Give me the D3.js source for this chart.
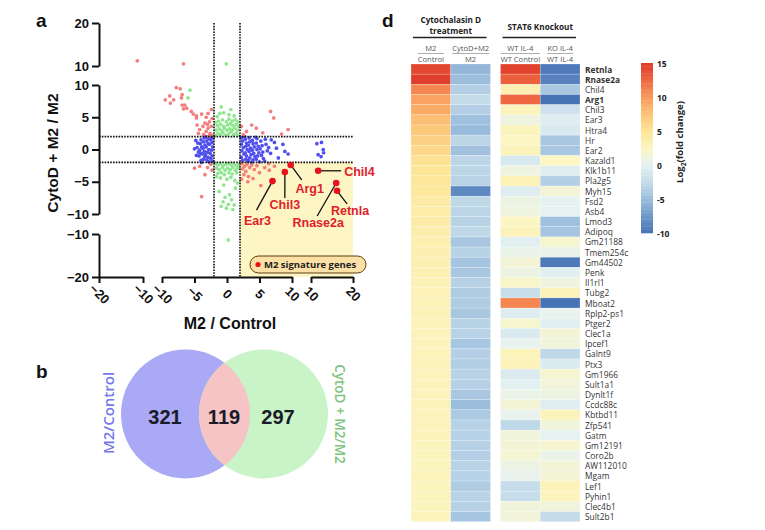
<!DOCTYPE html>
<html><head><meta charset="utf-8">
<script src="https://cdn.jsdelivr.net/npm/d3@7"></script>
<style>body{margin:0;background:#fff}svg{display:block}</style>
</head><body><svg id="c" width="765" height="530"></svg>
<script>
// ---------------- DATA ----------------
// Panel a: scatter (log2 FC), x = M2/Control, y = CytoD+M2/M2
const bluePts = [
[-2.2,1.8],[-2.5,1.5],[-2.3,1.1],[-2.7,0.8],[-2.2,0.4],[-2.4,-0.1],[-2.6,-0.6],[-2.3,-1.0],[-2.5,-1.4],[-2.2,-1.8],
[-2.9,1.7],[-3.1,1.3],[-2.9,0.9],[-3.2,0.4],[-2.8,0.0],[-3.0,-0.4],[-3.3,-0.8],[-2.9,-1.2],[-3.1,-1.6],[-2.8,-1.9],
[-3.5,1.8],[-3.6,1.2],[-3.4,0.7],[-3.7,0.2],[-3.5,-0.3],[-3.8,-0.7],[-3.4,-1.1],[-3.6,-1.5],
[-4.0,1.5],[-4.1,0.9],[-3.9,0.4],[-4.2,-0.1],[-4.0,-0.6],[-4.3,-1.0],[-4.0,-1.7],
[-4.5,1.0],[-4.6,0.3],[-4.4,-0.4],[-4.7,-0.9],[-2.4,2.0],[-2.6,-2.0],[-3.3,2.0],[-3.9,-2.0],[-5.0,0.1],[-4.8,1.4],
[2.2,1.8],[2.4,1.3],[2.2,0.8],[2.5,0.3],[2.3,-0.2],[2.6,-0.7],[2.2,-1.2],[2.4,-1.7],
[2.8,1.6],[3.0,1.0],[2.9,0.5],[3.1,0.0],[2.8,-0.5],[3.0,-1.0],[2.9,-1.5],[3.2,-1.9],
[3.4,1.8],[3.5,1.2],[3.3,0.7],[3.6,0.2],[3.4,-0.3],[3.7,-0.8],[3.5,-1.3],[3.3,-1.7],
[3.9,1.4],[4.0,0.9],[4.2,0.4],[3.9,-0.1],[4.1,-0.6],[4.3,-1.1],[4.0,-1.6],
[4.6,1.7],[4.5,1.0],[4.8,0.5],[4.6,0.0],[4.9,-0.5],[4.7,-1.0],[4.5,-1.5],
[5.2,1.3],[5.4,0.6],[5.1,0.1],[5.5,-0.4],[5.3,-0.9],[5.6,-1.4],
[5.9,1.6],[6.0,0.8],[6.2,-0.2],[5.8,-1.8],[6.4,0.3],[2.7,2.0],[3.8,-2.0],[4.4,1.9],[5.0,-1.9],
[6.8,1.5],[7.3,1.1],[6.7,-0.6],[7.6,0.2],[8.6,0.8],[8.9,-0.3],[9.4,-0.7],[7.9,-1.3],
[11.4,0.9],[12.5,1.1],[12.9,0.0],[13.0,-0.5],[11.7,-0.8],[12.4,-1.1]
];
const greenPts = [
[-1.8,2.2],[-1.4,2.5],[-1.0,2.3],[-0.6,2.6],[-0.2,2.2],[0.2,2.4],[0.6,2.7],[1.0,2.3],[1.4,2.5],[1.8,2.2],
[-1.7,3.0],[-1.2,3.2],[-0.8,2.9],[-0.4,3.3],[0.0,3.0],[0.4,3.2],[0.8,3.0],[1.2,3.3],[1.6,3.0],
[-1.5,3.7],[-1.0,3.9],[-0.5,3.6],[0.1,3.8],[0.5,4.0],[0.9,3.7],[1.4,3.9],[1.8,3.6],
[-1.3,4.4],[-0.7,4.6],[-0.1,4.3],[0.3,4.7],[0.8,4.4],[1.3,4.6],[-1.8,4.2],[1.7,4.3],
[-0.9,6.6],[-0.5,5.7],[0.3,5.4],[1.1,5.2],[-1.5,5.1],[-5.7,9.2],[-6.0,8.0],[0.6,6.2],[-1.1,5.6],
[-0.1,10.5],
[-1.8,-2.2],[-1.4,-2.4],[-1.0,-2.2],[-0.6,-2.5],[-0.2,-2.3],[0.2,-2.2],[0.6,-2.4],[1.0,-2.2],[1.4,-2.5],[1.8,-2.3],
[-1.6,-2.9],[-1.2,-3.1],[-0.7,-2.8],[-0.3,-3.2],[0.1,-2.9],[0.5,-3.1],[0.9,-2.8],[1.3,-3.2],[1.7,-2.9],
[-1.4,-3.7],[-0.9,-3.6],[-0.4,-3.9],[0.3,-3.6],[0.8,-3.8],[1.5,-3.6],
[-1.0,-4.4],[0.0,-4.6],[0.6,-4.3],[1.2,-4.8],[-1.6,-4.2],
[-0.5,-5.5],[1.6,-5.2],[-1.2,-6.5],[1.3,-6.0],[0.4,-7.0],[-0.6,-8.1],[0.7,-7.8],[-0.1,-9.1],[0.9,-9.3],[-0.9,-8.8],[0.2,-8.5],[1.1,-8.6],[-0.3,-7.4],
[0.2,-11.4]
];
const pinkPts = [
[-11.3,11.2],[-6.7,10.5],
[-7.8,9.6],[-7.2,9.4],[-8.8,8.3],[-9.5,7.7],[-8.2,7.7],[-8.7,7.2],[-7.0,8.0],[-6.9,6.9],[-6.7,6.3],[-6.9,8.5],[-6.5,6.9],[-6.2,6.4],
[-5.5,5.9],[-5.2,5.5],[-4.7,5.2],[-3.9,5.5],[-3.2,5.0],[-2.9,5.6],[-2.4,6.2],[-4.7,4.9],[-3.4,4.1],[-2.7,4.3],[-2.9,3.3],[-3.7,3.6],
[-4.2,3.1],[-3.2,2.8],[-2.6,2.5],[-2.4,3.6],[-2.2,2.2],[-3.6,2.3],[-4.4,2.5],[-2.8,2.1],[-3.0,3.9],[-4.6,3.8],[-2.3,4.8],
[2.2,3.6],[3.8,3.8],[4.5,3.3],[3.0,2.8],[6.7,5.9],[7.2,4.9],[8.4,2.4],[9.4,3.1],[2.5,2.3],[5.5,2.6],
[-3.9,-7.3],[-3.4,-3.9],[-5.0,-2.9],[-4.2,-2.6],[-2.5,-2.3],[-3.0,-2.8],[-2.3,-3.2],
[2.3,-2.2],[2.7,-2.6],[3.1,-2.3],[2.4,-3.0],[3.5,-2.8],[2.9,-3.4],[3.8,-2.4],[4.2,-3.1],[2.6,-3.9],[3.3,-4.2],
[3.2,-5.0],[4.6,-2.5],[5.0,-3.6],[2.2,-4.6],[4.0,-4.5],[5.8,-2.8],[6.5,-3.2],[5.2,-5.6],[6.4,-2.2],[7.3,-2.6]
];
const sigGenes = ["Chil4","Arg1","Chil3","Ear3","Rnase2a","Retnla"];
const sigX = [11.7, 9.8, 8.9, 7.0, 16.0, 16.2];
const sigY = [-3.3, -2.4, -3.5, -4.9, -5.2, -6.4];
const xTicksLeft = [-20,-10], xTicksMid = [-10,-5,0,5,10], xTicksRight = [10,20];
const yTicksTop = [10,20], yTicksMid = [-10,-5,0,5,10], yTicksBot = [-20,-10];

// Panel b: Venn
const vennLabels = ["M2/Control","CytoD + M2/M2"];
const vennCounts = [321, 119, 297];

// Panel d: heatmap
const genes = ["Retnla","Rnase2a","Chil4","Arg1","Chil3","Ear3","Htra4","Hr","Ear2","Kazald1","Klk1b11","Pla2g5","Myh15","Fsd2","Asb4","Lmod3","Adipoq","Gm21188","Tmem254c","Gm44502","Penk","Il1rl1","Tubg2","Mboat2","Rplp2-ps1","Ptger2","Clec1a","Ipcef1","Galnt9","Ptx3","Gm1966","Sult1a1","Dynlt1f","Ccdc88c","Kbtbd11","Zfp541","Gatm","Gm12191","Coro2b","AW112010","Mgam","Lef1","Pyhin1","Clec4b1","Sult2b1"];
const boldGenes = ["Retnla","Rnase2a","Arg1"];
const valM2Ctrl = [14.3,14.8,11,9.5,9,7.8,7.2,6.5,6,5.2,5,4.8,4.6,4.2,4,4,3.8,3.6,3.5,3.5,3.4,3.3,3.2,3.1,3.1,3.0,3.0,3.0,3.0,3.0,2.9,2.9,2.9,2.9,2.9,2.9,2.9,2.8,2.8,2.8,2.8,2.8,2.8,2.8,2.8];
const valCytoM2 = [-5.5,-5,-3.5,-2.5,-3.5,-4.8,-5.2,-3,-4.7,-3,-3,-3.2,-8.5,-2.8,-3,-3.2,-2.8,-4.2,-3.2,-4.5,-4.2,-3.3,-3.8,-3.8,-4.2,-3.2,-3.2,-4.3,-3.5,-3.6,-3.2,-3.4,-4.2,-5.0,-4.0,-3.3,-3.3,-3.4,-3.5,-3.2,-3.3,-3.8,-3.2,-3.3,-4.3];
const valWTCtrl = [14.5,13,3.5,12.5,2.8,1,2.8,2.5,3,-1,1,3.2,-0.5,0.8,1,2.5,3,-0.3,0.5,1.5,0.8,2.2,-2.2,11,-0.5,1.8,-1,0.2,3,3,-0.8,-0.2,0.5,1.5,0.3,-2.8,1.2,1.5,1.6,0.8,0.3,-2.3,-2.3,1.2,1.3];
const valKOWT = [-9.5,-9,-4.2,-10,-1.8,-0.5,-1,-4.2,-4.2,2.5,-0.5,-3.5,1.5,0,0,-4.8,-4.5,1.8,0.5,-9.5,-0.3,1,3,-10,0.2,-0.3,1.5,1.2,-2.8,-0.8,1.8,1.3,0.8,-0.5,3,1.2,0,1.8,0.5,1.5,1.5,3,2.8,1.2,-2.5];
const colNum = ["M2","CytoD+M2","WT IL-4","KO IL-4"];
const colDen = ["Control","M2","WT Control","WT IL-4"];
const groupTitles = [["Cytochalasin D","treatment"],["STAT6 Knockout"]];
const cbTicks = [15,10,5,0,-5,-10];
const colorVals = [-10,-7.5,-5,-2.5,0,2.5,5,7.5,10,12.5,15];
const colorHex = ["#4673b5","#6e97c9","#9cbedd","#c4dbea","#e6f2f2","#fbf6c2","#fde597","#fcc476","#f99a5a","#ef6841","#dd3a2a"];

// ---------------- DRAW ----------------
const svg = d3.select("#c");
const AF = "'Liberation Sans', Arial, sans-serif";
const MF = "'Open Sans', 'Noto Sans', sans-serif";

[["a",36,27],["b",36,378],["d",382,27]].forEach(d=>{
  svg.append("text").attr("x",d[1]).attr("y",d[2]).text(d[0])
    .attr("font-family",AF).attr("font-weight","bold").attr("font-size",19).attr("fill","#111");
});

// ---- panel a ----
const xLeft = d3.scaleLinear([-20,-10],[99,143]);
const xMid = d3.scaleLinear([-10,10],[162,292]);
const xRight = d3.scaleLinear([10,20],[311,353]);
const yTop = d3.scaleLinear([10,20],[66,23]);
const yMid = d3.scaleLinear([-10,10],[214,85]);
const yBot = d3.scaleLinear([-20,-10],[277,234]);
const px = v => v < -10 ? xLeft(v) : (v > 10 ? xRight(v) : xMid(v));
const py = v => v > 10 ? yTop(v) : (v < -10 ? yBot(v) : yMid(v));
const axY = 277, axX = 99;

const ga = svg.append("g");
ga.append("rect").attr("x",xMid(2)).attr("y",yMid(-2))
  .attr("width",xRight(20)-xMid(2)).attr("height",axY-yMid(-2)).attr("fill","#fdf5c4");

function drawPts(pts, col){
  ga.append("g").selectAll("circle").data(pts).join("circle")
    .attr("cx",d=>px(d[0])).attr("cy",d=>py(d[1])).attr("r",1.85).attr("fill",col);
}
drawPts(greenPts,"#8fe68f");
drawPts(bluePts,"#4f4ff0");
drawPts(pinkPts,"#f27e7e");

const dash = {"stroke":"#111","stroke-width":1.6,"stroke-dasharray":"1.6,1.2"};
[-2,2].forEach(v=>{
  const l1 = ga.append("line").attr("x1",xMid(v)).attr("x2",xMid(v)).attr("y1",yTop(20)).attr("y2",axY);
  const l2 = ga.append("line").attr("y1",yMid(v)).attr("y2",yMid(v)).attr("x1",axX).attr("x2",xRight(20));
  for(const k in dash){ l1.attr(k,dash[k]); l2.attr(k,dash[k]); }
});

function styleAxis(g){
  g.selectAll(".domain").attr("stroke","#111").attr("stroke-width",2);
  g.selectAll(".tick line").attr("stroke","#111").attr("stroke-width",2);
  g.selectAll(".tick text").attr("font-family",AF).attr("font-weight","bold").attr("font-size",13).attr("fill","#111");
}
[[yTop,yTicksTop],[yMid,yTicksMid],[yBot,yTicksBot]].forEach(([s,t])=>{
  const g = ga.append("g").attr("transform",`translate(${axX},0)`)
    .call(d3.axisLeft(s).tickValues(t).tickSize(7).tickSizeOuter(0).tickPadding(3));
  styleAxis(g);
});
[[xLeft,xTicksLeft],[xMid,xTicksMid],[xRight,xTicksRight]].forEach(([s,t])=>{
  const g = ga.append("g").attr("transform",`translate(0,${axY})`)
    .call(d3.axisBottom(s).tickValues(t).tickSize(6).tickSizeOuter(0));
  styleAxis(g);
  g.selectAll(".tick text").attr("y",0).attr("dy",null)
    .attr("dominant-baseline","central").attr("text-anchor","middle")
    .attr("transform","translate(0,17) rotate(45)");
});
ga.append("text").attr("transform",`translate(58,153) rotate(-90)`).attr("text-anchor","middle")
  .attr("font-family",AF).attr("font-weight","bold").attr("font-size",15.5).attr("fill","#111")
  .text("CytoD + M2 / M2");
ga.append("text").attr("x",230).attr("y",329).attr("text-anchor","middle")
  .attr("font-family",AF).attr("font-weight","bold").attr("font-size",16).attr("fill","#111")
  .text("M2 / Control");

const labelLayout = { // [lineDx, lineDy, textDx, textDy, anchor]
  "Chil4":[23,0,26,5,"start"], "Arg1":[11,15,19,28,"middle"], "Chil3":[0,26,0,37,"middle"],
  "Ear3":[-16,29,-15,44,"middle"], "Rnase2a":[-19,33,-18,44,"middle"], "Retnla":[10,13,13,24,"middle"]
};
sigGenes.forEach((gn,i)=>{
  const x = px(sigX[i]), y = py(sigY[i]), L = labelLayout[gn];
  ga.append("line").attr("x1",x).attr("y1",y).attr("x2",x+L[0]).attr("y2",y+L[1])
    .attr("stroke","#111").attr("stroke-width",1.3);
  ga.append("circle").attr("cx",x).attr("cy",y).attr("r",3.3).attr("fill","#e8121c");
  ga.append("text").attr("x",x+L[2]).attr("y",y+L[3]).attr("text-anchor",L[4])
    .attr("font-family",AF).attr("font-weight","bold").attr("font-size",12.5).attr("fill","#e0202a").text(gn);
});
ga.append("rect").attr("x",250).attr("y",256).attr("width",116).attr("height",17).attr("rx",8.5)
  .attr("fill","#fbe1a6").attr("stroke","#5a3b10").attr("stroke-width",1);
ga.append("circle").attr("cx",258).attr("cy",264.5).attr("r",2.6).attr("fill","#e8121c");
ga.append("text").attr("x",264).attr("y",268).attr("font-family",MF).attr("font-weight","bold")
  .attr("font-size",9.5).attr("fill","#222").text("M2 signature genes");

// ---- panel b: Venn ----
const gb = svg.append("g");
const vc = [[185.5,414],[263.5,414]], vr = 64.5;
gb.append("circle").attr("cx",vc[0][0]).attr("cy",vc[0][1]).attr("r",vr).attr("fill","#a9a9f6");
gb.append("circle").attr("cx",vc[1][0]).attr("cy",vc[1][1]).attr("r",vr).attr("fill","#c8f4c8");
svg.append("defs").append("clipPath").attr("id","clipA").append("circle")
  .attr("cx",vc[0][0]).attr("cy",vc[0][1]).attr("r",vr);
gb.append("circle").attr("cx",vc[1][0]).attr("cy",vc[1][1]).attr("r",vr).attr("fill","#f6c4c4")
  .attr("clip-path","url(#clipA)");
[165,224,278].forEach((x,i)=>{
  gb.append("text").attr("x",x).attr("y",424).attr("text-anchor","middle")
    .attr("font-family",AF).attr("font-weight","bold").attr("font-size",20).attr("fill","#1a1a28")
    .text(vennCounts[i]);
});
gb.append("text").attr("transform","translate(108,413) rotate(-90)").attr("text-anchor","middle")
  .attr("dominant-baseline","central").attr("font-family",MF).attr("font-weight","600").attr("font-size",15).attr("fill","#7676ee").text(vennLabels[0]);
gb.append("text").attr("transform","translate(340,414) rotate(90)").attr("text-anchor","middle")
  .attr("dominant-baseline","central").attr("font-family",MF).attr("font-weight","600").attr("font-size",13.5).attr("fill","#7cc47c").text(vennLabels[1]);

// ---- panel d: heatmap ----
const gd = svg.append("g");
const color = d3.scaleLinear(colorVals, colorHex).clamp(true);
const gap = 10, hx0 = 411, hx1 = 580;
const groupScale = d3.scaleBand().domain([0,1]).range([hx0,hx1]).paddingInner(gap/((hx1-hx0+gap)/2));
const inner = d3.scaleBand().domain([0,1]).range([0,groupScale.bandwidth()]);
const colX = c => groupScale(Math.floor(c/2)) + inner(c%2);
const rowY = d3.scaleBand().domain(genes).range([64,521.7]);
const cols = [valM2Ctrl, valCytoM2, valWTCtrl, valKOWT];
cols.forEach((vals,c)=>{
  gd.append("g").selectAll("rect").data(genes).join("rect")
    .attr("x",colX(c)).attr("y",d=>rowY(d)).attr("width",inner.bandwidth()).attr("height",rowY.bandwidth())
    .attr("fill",(d,i)=>color(vals[i])).attr("stroke","#ffffff").attr("stroke-opacity",0.35).attr("stroke-width",0.6);
});
gd.append("g").selectAll("text").data(genes).join("text")
  .attr("x",585).attr("y",d=>rowY(d)+rowY.bandwidth()/2).attr("dominant-baseline","central")
  .attr("font-family",MF).attr("font-size",8.4).attr("fill","#333")
  .attr("font-weight",d=>boldGenes.includes(d)?"bold":"normal").text(d=>d);

colNum.forEach((t,c)=>{
  const cx = colX(c)+inner.bandwidth()/2;
  const a = gd.append("text").attr("x",cx).attr("y",50.5).attr("text-anchor","middle")
    .attr("font-family",MF).attr("font-size",7.6).attr("fill","#555").text(t);
  const b = gd.append("text").attr("x",cx).attr("y",61.5).attr("text-anchor","middle")
    .attr("font-family",MF).attr("font-size",7.6).attr("fill","#555").text(colDen[c]);
  const w = Math.max(a.node().getComputedTextLength(), b.node().getComputedTextLength());
  gd.append("line").attr("x1",cx-w/2).attr("x2",cx+w/2).attr("y1",53.5).attr("y2",53.5)
    .attr("stroke","#999").attr("stroke-width",0.8);
});
groupTitles.forEach((lines,gi)=>{
  const cx = groupScale(gi)+groupScale.bandwidth()/2;
  const y0 = lines.length===2 ? 23 : 30;
  lines.forEach((t,k)=>{
    gd.append("text").attr("x",cx).attr("y",y0+k*11).attr("text-anchor","middle")
      .attr("font-family",MF).attr("font-weight","bold").attr("font-size",8.2).attr("fill","#222").text(t);
  });
  gd.append("line").attr("x1",groupScale(gi)+2).attr("x2",groupScale(gi)+groupScale.bandwidth()-4)
    .attr("y1",37.5).attr("y2",37.5).attr("stroke","#222").attr("stroke-width",1.6);
});

const cbY = d3.scaleLinear([-10,15],[233,63]);
const steps = d3.range(-10,15,0.5);
gd.append("g").selectAll("rect").data(steps).join("rect")
  .attr("x",641).attr("width",12).attr("y",v=>cbY(v+0.5)).attr("height",v=>cbY(v)-cbY(v+0.5)+0.3)
  .attr("fill",v=>color(v+0.25));
gd.append("g").selectAll("text").data(cbTicks).join("text")
  .attr("x",657).attr("y",v=>cbY(v)).attr("dominant-baseline","central")
  .attr("font-family",MF).attr("font-weight","bold").attr("font-size",8.5).attr("fill","#222").text(v=>v);
const tt = gd.append("text").attr("transform","translate(683,142) rotate(-90)").attr("text-anchor","middle")
  .attr("font-family",MF).attr("font-weight","bold").attr("font-size",9.5).attr("fill","#222");
tt.append("tspan").text("Log");
tt.append("tspan").attr("font-size",6.5).attr("dy",2.5).text("2");
tt.append("tspan").attr("dy",-2.5).text("(fold change)");
</script></body></html>
